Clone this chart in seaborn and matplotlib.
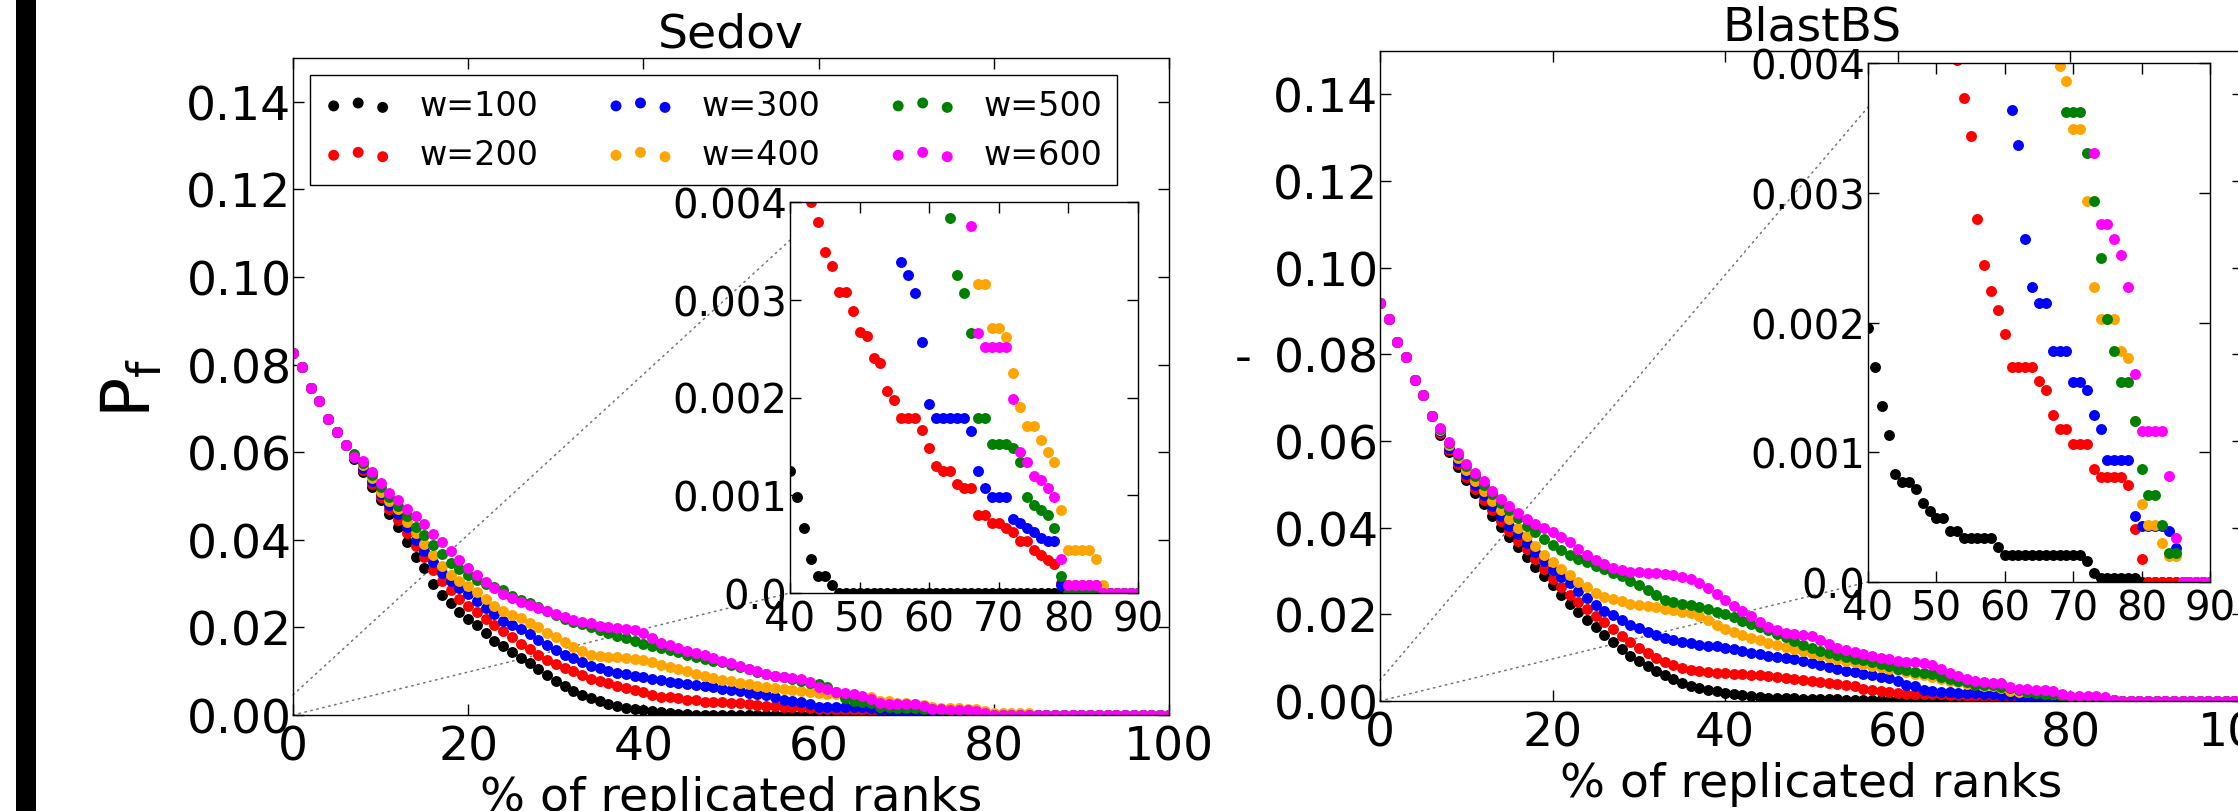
import numpy as np
import pandas as pd
import matplotlib
matplotlib.use("Agg")
import matplotlib.pyplot as plt
import seaborn as sns
from matplotlib.patches import ConnectionPatch, Rectangle

sns.set_theme(style="ticks")
plt.rcParams.update({
    "font.family": ["DejaVu Sans"],
    "mathtext.fontset": "dejavusans",
    "text.color": "black", "axes.labelcolor": "black",
    "xtick.color": "black", "ytick.color": "black",
    "axes.edgecolor": "black", "axes.linewidth": 1.0,
    "figure.facecolor": "white", "axes.facecolor": "white",
})

# ---------------- data ----------------
ranks = np.arange(0, 101)          # % of replicated ranks
windows = ["w=100", "w=200", "w=300", "w=400", "w=500", "w=600"]
colors = ["black", "red", "blue", "orange", "green", "magenta"]

sedov_w100 = [0.0826, 0.0794, 0.0746, 0.0716, 0.0675, 0.0647, 0.0616,
    0.0585, 0.0555, 0.0520, 0.0490, 0.0460, 0.0430, 0.0395, 0.0360, 0.0335, 0.0300,
    0.0275, 0.0255, 0.0235, 0.0220, 0.0205, 0.0188, 0.0170, 0.0157, 0.0143, 0.0130,
    0.0118, 0.0106, 0.0091, 0.0077, 0.0066, 0.0055, 0.0046, 0.0038, 0.0032, 0.0026,
    0.0021, 0.0017, 0.0014, 0.00125, 0.00098, 0.00067, 0.00035, 0.00017, 0.00017, 0.00008] + [0.0] * 54
sedov_w200 = [0.0826, 0.0794, 0.0746, 0.0716, 0.0675, 0.0647, 0.0616,
    0.0588, 0.0560, 0.0528, 0.0497, 0.0470, 0.0445, 0.0415, 0.0385, 0.0360, 0.0330,
    0.0305, 0.0285, 0.0265, 0.0248, 0.0235, 0.0220, 0.0206, 0.0192, 0.0178, 0.0163,
    0.0150, 0.0138, 0.0126, 0.0116, 0.0108, 0.0100, 0.0091, 0.0083, 0.0077, 0.0072,
    0.0067, 0.0062, 0.0057, 0.0052, 0.0046, 0.0042, 0.0040, 0.0038, 0.00349, 0.00335,
    0.00308, 0.00308, 0.00289, 0.00267, 0.00263, 0.0024, 0.00235, 0.00207, 0.00197, 0.00179,
    0.00179, 0.00179, 0.00167, 0.00148, 0.0013, 0.00125, 0.00125, 0.00112, 0.00107, 0.00107,
    0.0008, 0.0008, 0.00072, 0.00072, 0.00067, 0.00062, 0.00053, 0.00053, 0.00044, 0.00039,
    0.00034, 0.0003, 0.0001, 0.00008, 0.00008, 0.00008, 0.00008, 0.00008] + [0.0] * 16
sedov_w300 = [0.0826, 0.0794, 0.0746, 0.0716, 0.0675, 0.0647, 0.0616,
    0.0590, 0.0565, 0.0535, 0.0505, 0.0480, 0.0460, 0.0430, 0.0400, 0.0375, 0.0350,
    0.0325, 0.0305, 0.0290, 0.0276, 0.0260, 0.0245, 0.0230, 0.0215, 0.0205, 0.0196,
    0.0185, 0.0171, 0.0160, 0.0148, 0.0138, 0.0129, 0.0120, 0.0113, 0.0107, 0.0101,
    0.0097, 0.0093, 0.0090, 0.0087, 0.0083, 0.0079, 0.0076, 0.0073, 0.0071, 0.0068,
    0.0066, 0.0063, 0.0060, 0.0057, 0.0054, 0.0051, 0.0049, 0.0046, 0.0042, 0.00339,
    0.00325, 0.00307, 0.00257, 0.00193, 0.00179, 0.00179, 0.00179, 0.00179, 0.00179, 0.00166,
    0.00125, 0.00107, 0.00098, 0.00098, 0.00098, 0.00076, 0.00072, 0.00067, 0.00062, 0.00056,
    0.00053, 0.00053, 0.00008] + [0.0] * 21
sedov_w400 = [0.0826, 0.0794, 0.0746, 0.0716, 0.0675, 0.0647, 0.0616,
    0.0592, 0.0570, 0.0540, 0.0510, 0.0488, 0.0470, 0.0440, 0.0415, 0.0390, 0.0365,
    0.0340, 0.0320, 0.0305, 0.0294, 0.0280, 0.0265, 0.0250, 0.0237, 0.0228, 0.0221,
    0.0210, 0.0200, 0.0188, 0.0178, 0.0166, 0.0155, 0.0145, 0.0137, 0.0134, 0.0133,
    0.0132, 0.0130, 0.0128, 0.0125, 0.0121, 0.0115, 0.0109, 0.0104, 0.0100, 0.0094,
    0.0089, 0.0085, 0.0080, 0.0077, 0.0073, 0.0070, 0.0067, 0.0065, 0.0062, 0.0059,
    0.0057, 0.0055, 0.0053, 0.0051, 0.0049, 0.0047, 0.0045, 0.0043, 0.0042, 0.0041,
    0.00316, 0.00316, 0.00271, 0.00271, 0.00262, 0.00225, 0.0019, 0.00171, 0.00171, 0.00157,
    0.00144, 0.00134, 0.00085, 0.00044, 0.00044, 0.00044, 0.00044, 0.00035, 0.00008] + [0.0] * 15
sedov_w500 = [0.0826, 0.0794, 0.0746, 0.0716, 0.0675, 0.0647, 0.0616,
    0.0595, 0.0575, 0.0548, 0.0520, 0.0498, 0.0478, 0.0455, 0.0430, 0.0410, 0.0388,
    0.0368, 0.0348, 0.0333, 0.0320, 0.0308, 0.0298, 0.0292, 0.0285, 0.0272, 0.0262,
    0.0255, 0.0247, 0.0238, 0.0229, 0.0220, 0.0213, 0.0207, 0.0200, 0.0193, 0.0187,
    0.0181, 0.0176, 0.0169, 0.0162, 0.0157, 0.0152, 0.0148, 0.0143, 0.0138, 0.0133,
    0.0128, 0.0124, 0.0120, 0.0115, 0.0110, 0.0104, 0.0099, 0.0094, 0.0090, 0.0086,
    0.0082, 0.0078, 0.0074, 0.0070, 0.0063, 0.0052, 0.00384, 0.00325, 0.00307, 0.00266,
    0.00179, 0.00179, 0.00152, 0.00152, 0.00152, 0.00148, 0.00134, 0.00098, 0.0009, 0.00085,
    0.0008, 0.00067, 0.00017] + [0.0] * 21
sedov_w600 = [0.0826, 0.0794, 0.0746, 0.0716, 0.0675, 0.0647, 0.0616,
    0.0590, 0.0579, 0.0555, 0.0530, 0.0507, 0.0490, 0.0471, 0.0454, 0.0436, 0.0413,
    0.0395, 0.0375, 0.0355, 0.0336, 0.0320, 0.0303, 0.0290, 0.0277, 0.0268, 0.0259,
    0.0251, 0.0244, 0.0237, 0.0230, 0.0224, 0.0218, 0.0213, 0.0209, 0.0204, 0.0200,
    0.0199, 0.0197, 0.0193, 0.0188, 0.0176, 0.0165, 0.0159, 0.0153, 0.0147, 0.0141,
    0.0136, 0.0130, 0.0124, 0.0118, 0.0112, 0.0106, 0.0100, 0.0094, 0.0090, 0.0086,
    0.0084, 0.0082, 0.0075, 0.0065, 0.0059, 0.0053, 0.0050, 0.0047, 0.0044, 0.00375,
    0.00266, 0.00252, 0.00252, 0.00252, 0.00252, 0.00198, 0.00144, 0.00134, 0.0012, 0.00116,
    0.00107, 0.00098, 0.00035, 0.00008, 0.00008, 0.00008, 0.00008, 0.00008] + [0.0] * 16

blast_w100 = [0.0918, 0.0882, 0.0828, 0.0795, 0.0741, 0.0707, 0.0657,
    0.0615, 0.0575, 0.0540, 0.0510, 0.0480, 0.0455, 0.0428, 0.0402, 0.0378, 0.0355,
    0.0333, 0.0310, 0.0288, 0.0267, 0.0245, 0.0225, 0.0205, 0.0187, 0.0170, 0.0153,
    0.0136, 0.0120, 0.0105, 0.0092, 0.0080, 0.0069, 0.0059, 0.0050, 0.0042, 0.0035,
    0.0029, 0.0025, 0.0022, 0.00196, 0.00166, 0.00136, 0.00113, 0.00083, 0.00077, 0.00077,
    0.00072, 0.00061, 0.00055, 0.00049, 0.00049, 0.00039, 0.00039, 0.00034, 0.00034, 0.00034,
    0.00034, 0.00034, 0.00027, 0.00021, 0.00021, 0.00021, 0.00021, 0.00021, 0.00021, 0.00021,
    0.00021, 0.00021, 0.00021, 0.00021, 0.00021, 0.00016, 0.00007, 0.00003, 0.00003, 0.00003,
    0.00003, 0.00003, 0.00003] + [0.0] * 21
blast_w200 = [0.0918, 0.0882, 0.0828, 0.0795, 0.0741, 0.0707, 0.0657,
    0.0618, 0.0580, 0.0548, 0.0518, 0.0490, 0.0465, 0.0440, 0.0415, 0.0392, 0.0370,
    0.0350, 0.0328, 0.0305, 0.0282, 0.0262, 0.0245, 0.0228, 0.0212, 0.0196, 0.0182,
    0.0166, 0.0150, 0.0136, 0.0122, 0.0110, 0.0099, 0.0090, 0.0083, 0.0077, 0.0072,
    0.0069, 0.0067, 0.0065, 0.0064, 0.0063, 0.0062, 0.0061, 0.0059, 0.0057, 0.0055,
    0.0053, 0.0051, 0.0048, 0.0046, 0.0044, 0.0042, 0.00402, 0.00373, 0.00344, 0.0028,
    0.00244, 0.00224, 0.0021, 0.00191, 0.00166, 0.00166, 0.00166, 0.00166, 0.00155, 0.00148,
    0.00129, 0.00118, 0.00118, 0.00106, 0.00106, 0.00106, 0.00087, 0.00081, 0.00081, 0.00081,
    0.00081, 0.00075, 0.00041, 0.00018] + [0.0] * 20
blast_w300 = [0.0918, 0.0882, 0.0828, 0.0795, 0.0741, 0.0707, 0.0657,
    0.0622, 0.0585, 0.0555, 0.0525, 0.0498, 0.0475, 0.0450, 0.0428, 0.0405, 0.0385,
    0.0365, 0.0345, 0.0322, 0.0302, 0.0287, 0.0272, 0.0254, 0.0238, 0.0222, 0.0208,
    0.0198, 0.0186, 0.0176, 0.0168, 0.0160, 0.0152, 0.0145, 0.0140, 0.0136, 0.0133,
    0.0130, 0.0128, 0.0126, 0.0123, 0.0119, 0.0115, 0.0111, 0.0108, 0.0105, 0.0102,
    0.0099, 0.0096, 0.0093, 0.0088, 0.0083, 0.0078, 0.0074, 0.0070, 0.0066, 0.0062,
    0.0059, 0.0056, 0.0052, 0.0046, 0.00364, 0.00337, 0.00264, 0.00227, 0.00215, 0.00215,
    0.00178, 0.00178, 0.00178, 0.00154, 0.00154, 0.00148, 0.00129, 0.00118, 0.00094, 0.00094,
    0.00094, 0.00094, 0.00051, 0.00043, 0.00043, 0.00043, 0.00043, 0.00039, 0.00026] + [0.0] * 15
blast_w400 = [0.0918, 0.0882, 0.0828, 0.0795, 0.0741, 0.0707, 0.0657,
    0.0625, 0.0590, 0.0560, 0.0532, 0.0507, 0.0485, 0.0462, 0.0440, 0.0420, 0.0400,
    0.0380, 0.0358, 0.0338, 0.0320, 0.0305, 0.0290, 0.0275, 0.0262, 0.0250, 0.0241,
    0.0235, 0.0230, 0.0225, 0.0222, 0.0219, 0.0216, 0.0213, 0.0210, 0.0206, 0.0202,
    0.0196, 0.0186, 0.0176, 0.0167, 0.0160, 0.0153, 0.0146, 0.0140, 0.0135, 0.0130,
    0.0125, 0.0120, 0.0116, 0.0111, 0.0106, 0.0102, 0.0097, 0.0093, 0.0089, 0.0085,
    0.0081, 0.0078, 0.0075, 0.0071, 0.0067, 0.0063, 0.0059, 0.0055, 0.0051, 0.0047,
    0.0043, 0.00398, 0.00386, 0.00349, 0.00349, 0.00294, 0.00227, 0.00203, 0.00203, 0.00203,
    0.00178, 0.00173, 0.00124, 0.0006, 0.00044, 0.00044, 0.0003, 0.0002, 0.0002] + [0.0] * 15
blast_w500 = [0.0918, 0.0882, 0.0828, 0.0795, 0.0741, 0.0707, 0.0657,
    0.0628, 0.0595, 0.0568, 0.0542, 0.0520, 0.0498, 0.0478, 0.0458, 0.0440, 0.0422,
    0.0405, 0.0390, 0.0375, 0.0361, 0.0348, 0.0337, 0.0328, 0.0320, 0.0311, 0.0304,
    0.0296, 0.0288, 0.0278, 0.0268, 0.0256, 0.0244, 0.0234, 0.0229, 0.0225, 0.0222,
    0.0218, 0.0213, 0.0206, 0.0200, 0.0194, 0.0185, 0.0177, 0.0170, 0.0163, 0.0155,
    0.0147, 0.0138, 0.0130, 0.0122, 0.0116, 0.0110, 0.0106, 0.0102, 0.0098, 0.0094,
    0.0090, 0.0086, 0.0080, 0.0074, 0.0071, 0.0068, 0.0065, 0.0062, 0.0056, 0.0050,
    0.0047, 0.0044, 0.00362, 0.00362, 0.00362, 0.00331, 0.00294, 0.0025, 0.00203, 0.00178,
    0.00154, 0.00154, 0.00124, 0.00087, 0.00067, 0.00067, 0.00044, 0.00022, 0.00022] + [0.0] * 15
blast_w600 = [0.0918, 0.0882, 0.0828, 0.0795, 0.0741, 0.0707, 0.0657,
    0.0631, 0.0598, 0.0572, 0.0548, 0.0527, 0.0507, 0.0485, 0.0467, 0.0449, 0.0433,
    0.0419, 0.0409, 0.0400, 0.0391, 0.0379, 0.0367, 0.0350, 0.0337, 0.0325, 0.0317,
    0.0308, 0.0302, 0.0298, 0.0297, 0.0296, 0.0295, 0.0293, 0.0290, 0.0286, 0.0281,
    0.0272, 0.0260, 0.0247, 0.0232, 0.0219, 0.0207, 0.0197, 0.0183, 0.0171, 0.0163,
    0.0158, 0.0155, 0.0152, 0.0150, 0.0141, 0.0131, 0.0123, 0.0118, 0.0114, 0.0108,
    0.0103, 0.0099, 0.0096, 0.0093, 0.0091, 0.0089, 0.0087, 0.0084, 0.0075, 0.0064,
    0.0057, 0.0050, 0.0046, 0.0044, 0.0042, 0.0041, 0.00331, 0.00276, 0.00276, 0.00264,
    0.00252, 0.00227, 0.0016, 0.00116, 0.00116, 0.00116, 0.00116, 0.00082, 0.00034] + [0.0] * 15

sedov_series = [sedov_w100, sedov_w200, sedov_w300, sedov_w400, sedov_w500, sedov_w600]
blast_series = [blast_w100, blast_w200, blast_w300, blast_w400, blast_w500, blast_w600]

main_xticks = [0, 20, 40, 60, 80, 100]
main_yticks = [0.00, 0.02, 0.04, 0.06, 0.08, 0.10, 0.12, 0.14]
main_yticklabels = ["0.00", "0.02", "0.04", "0.06", "0.08", "0.10", "0.12", "0.14"]
inset_xticks = [40, 50, 60, 70, 80, 90]
inset_yticks = [0.0, 0.001, 0.002, 0.003, 0.004]
inset_yticklabels = ["0.0", "0.001", "0.002", "0.003", "0.004"]

# ---------------- figure ----------------
W, H = 2238, 812
fig = plt.figure(figsize=(W / 100, H / 100), dpi=100)

def rect(x0, y0, x1, y1):
    return [x0 / W, 1 - y1 / H, (x1 - x0) / W, (y1 - y0) / H]

ax1 = fig.add_axes(rect(293, 59, 1169, 716))
ax2 = fig.add_axes(rect(1380, 52, 2243, 702))
in1 = fig.add_axes(rect(790, 203, 1138, 594))
in2 = fig.add_axes(rect(1868, 64, 2210, 583))

MS = 62

def draw(ax, series):
    for name, vals, col in zip(windows, series, colors):
        df = pd.DataFrame({"rank": ranks, "Pf": vals})
        sns.scatterplot(data=df, x="rank", y="Pf", color=col, s=MS, linewidth=0,
                        ax=ax, label=name, legend=False)

def style(ax, xt, yt, ytl, fs, xpad, ypad):
    ax.set_xticks(xt)
    ax.set_xticklabels([str(v) for v in xt])
    ax.set_yticks(yt)
    ax.set_yticklabels(ytl)
    ax.tick_params(direction="in", top=True, right=True, bottom=True, left=True,
                   length=8, width=1, labelsize=fs)
    ax.tick_params(axis="x", pad=xpad)
    ax.tick_params(axis="y", pad=ypad)
    for sp in ax.spines.values():
        sp.set_visible(True)
        sp.set_color("black")
        sp.set_linewidth(1.0)
    ax.set_xlabel("")
    ax.set_ylabel("")

for ax, ser, title in [(ax1, sedov_series, "Sedov"), (ax2, blast_series, "BlastBS")]:
    draw(ax, ser)
    ax.set_xlim(0, 100)
    ax.set_ylim(0, 0.15)
    style(ax, main_xticks, main_yticks, main_yticklabels, 34, 7, 1)
    ax.set_title(title, fontsize=34, pad=8)
    ax.set_xlabel("% of replicated ranks", fontsize=34, labelpad=4)

for ins, ser in [(in1, sedov_series), (in2, blast_series)]:
    ins.set_facecolor("white")
    draw(ins, ser)
    ins.set_xlim(40, 90)
    ins.set_ylim(0, 0.004)
    style(ins, inset_xticks, inset_yticks, inset_yticklabels, 29, 5, 2)

ax1.set_ylabel(r"P$_{\rm f}$", fontsize=48)
ax1.yaxis.set_label_coords(-0.146, 0.5)

# legend
leg = ax1.legend(handles=list(ax1.collections[:6]), labels=windows, loc="upper left",
                 ncol=3, fontsize=24, scatterpoints=3, frameon=True, fancybox=False,
                 framealpha=1, edgecolor="black", borderaxespad=0.5, borderpad=0.42,
                 labelspacing=0.49, handlelength=2.07, handletextpad=0.8,
                 columnspacing=2.03)
leg.get_frame().set_linewidth(1.0)

# dotted connector lines toward the insets
for ax, ins, y_up, x_up in [(ax1, in1, 0.0046, 46), (ax2, in2, 0.0048, 45.5)]:
    for xyA, xyB in [((0, y_up), (x_up, 0.004)), ((0, 0), (40, 0))]:
        con = ConnectionPatch(xyA=xyA, coordsA=ax.transData, xyB=xyB, coordsB=ins.transData,
                              linestyle=(0, (1, 3)), color="0.45", linewidth=1.1, zorder=0.5)
        ax.add_artist(con)

# stray mark left of the right panel
fig.text(1243 / W, 1 - 360 / H, "-", fontsize=34, ha="center", va="center")

# black bar at the left edge
fig.patches.append(Rectangle((16 / W, 0), 20 / W, 1, transform=fig.transFigure,
                             facecolor="black", edgecolor="none", figure=fig))

fig.savefig("out.png", dpi=100, facecolor="white")
